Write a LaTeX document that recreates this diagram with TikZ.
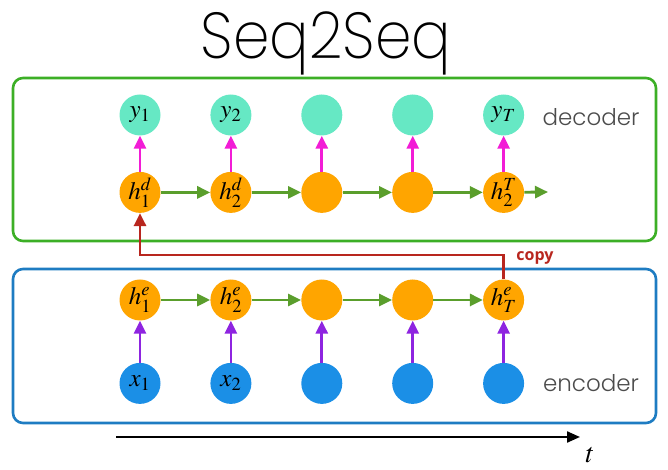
\documentclass[tikz,border=0pt]{standalone}
\usepackage{mathptmx}
\usepackage{fontspec}
\setmainfont{Poppins}
\newfontfamily\titlefont{Poppins ExtraLight}
\newfontfamily\labelfont{Poppins Light}
\newfontfamily\copyfont{Open Sans}
\usepackage{tikz}
\usetikzlibrary{positioning,arrows.meta}

\definecolor{ycol}{HTML}{66E8C4}
\definecolor{hcol}{HTML}{FFA500}
\definecolor{xcol}{HTML}{1B8FE6}
\definecolor{reccol}{HTML}{5A9E2C}
\definecolor{outcol}{HTML}{F21CD6}
\definecolor{incol}{HTML}{8E24E0}
\definecolor{copycol}{HTML}{B8261E}
\definecolor{deccol}{HTML}{3CAF26}
\definecolor{enccol}{HTML}{1E7CC2}

\tikzstyle{ynode} = [circle, fill=ycol, minimum size=41pt, inner sep=0pt, font=\fontsize{25}{28}\selectfont]
\tikzstyle{hnode} = [circle, fill=hcol, minimum size=41pt, inner sep=0pt, font=\fontsize{25}{28}\selectfont]
\tikzstyle{xnode} = [circle, fill=xcol, minimum size=41pt, inner sep=0pt, font=\fontsize{25}{28}\selectfont]
\tikzstyle{recarrow} = [line width=2.8pt, draw=reccol, -{Triangle[length=13pt,width=12pt]}]
\tikzstyle{outarrow} = [line width=2.8pt, draw=outcol, -{Triangle[length=13pt,width=12pt]}]
\tikzstyle{inarrow} = [line width=2.8pt, draw=incol, -{Triangle[length=13pt,width=12pt]}]
\tikzstyle{copyarrow} = [line width=2.8pt, draw=copycol, -{Triangle[length=13pt,width=12pt]}]
\tikzstyle{frame} = [line width=2.6pt, rounded corners=10pt]
\tikzstyle{partlabel} = [text=black!70, font=\labelfont\fontsize{23}{27}\selectfont]

\begin{document}
\begin{tikzpicture}[x=1pt, y=1pt, node distance=49.5pt] % one unit per pixel
\useasboundingbox (0,0) rectangle (668,470);

% Title and frames
\node (title) [xscale=0.9] at (326,427) {\titlefont\fontsize{65}{70}\selectfont Seq2Seq};
\draw [frame, draw=deccol] (13,229) rectangle (656,392);
\draw [frame, draw=enccol] (13,47) rectangle (656,201);

% Decoder
\node (y1)  [ynode] at (140,355)        {$y_1$};
\node (y2)  [ynode, right=of y1]        {$y_2$};
\node (y3)  [ynode, right=of y2]        {};
\node (y4)  [ynode, right=of y3]        {};
\node (yT)  [ynode, right=of y4]        {$y_T$};
\node (hd1) [hnode, below=36pt of y1]   {$h_1^d$};
\node (hd2) [hnode, below=36pt of y2]   {$h_2^d$};
\node (hd3) [hnode, below=36pt of y3]   {};
\node (hd4) [hnode, below=36pt of y4]   {};
\node (hdT) [hnode, below=36pt of yT]   {$h_2^T$};
\coordinate (hdout) at (548,278);
\node (declabel) [partlabel] at (591,353) {decoder};

% Encoder
\node (he1) [hnode] at (140,170)        {$h_1^e$};
\node (he2) [hnode, right=of he1]       {$h_2^e$};
\node (he3) [hnode, right=of he2]       {};
\node (he4) [hnode, right=of he3]       {};
\node (heT) [hnode, right=of he4]       {$h_T^e$};
\node (x1)  [xnode, below=42pt of he1]  {$x_1$};
\node (x2)  [xnode, below=42pt of he2]  {$x_2$};
\node (x3)  [xnode, below=42pt of he3]  {};
\node (x4)  [xnode, below=42pt of he4]  {};
\node (xT)  [xnode, below=42pt of heT]  {};
\node (enclabel) [partlabel] at (591,87) {encoder};

% Time axis
\coordinate (tstart) at (116,33);
\coordinate (tend)   at (580,33);
\node (tlabel) at (590,15) {\fontsize{28}{32}\selectfont$t$};

% Connect the nodes with arrows
\draw [outarrow] (hd1) -- (y1);
\draw [outarrow] (hd2) -- (y2);
\draw [outarrow] (hd3) -- (y3);
\draw [outarrow] (hd4) -- (y4);
\draw [outarrow] (hdT) -- (yT);
\draw [recarrow] (hd1) -- (hd2);
\draw [recarrow] (hd2) -- (hd3);
\draw [recarrow] (hd3) -- (hd4);
\draw [recarrow] (hd4) -- (hdT);
\draw [recarrow] (hdT) -- (hdout);
\draw [inarrow]  (x1)  -- (he1);
\draw [inarrow]  (x2)  -- (he2);
\draw [inarrow]  (x3)  -- (he3);
\draw [inarrow]  (x4)  -- (he4);
\draw [inarrow]  (xT)  -- (heT);
\draw [recarrow] (he1) -- (he2);
\draw [recarrow] (he2) -- (he3);
\draw [recarrow] (he3) -- (he4);
\draw [recarrow] (he4) -- (heT);
\coordinate (copyline) at (0,215);
\draw [copyarrow] (heT.north) -- (heT.north |- copyline) -| (hd1.south);
\node (copylabel) [text=copycol, font=\copyfont\bfseries\fontsize{16}{18}\selectfont] at (535,212) {copy};
\draw [line width=2.2pt, -{Triangle[length=13pt,width=11pt]}] (tstart) -- (tend);

\end{tikzpicture}
\end{document}
